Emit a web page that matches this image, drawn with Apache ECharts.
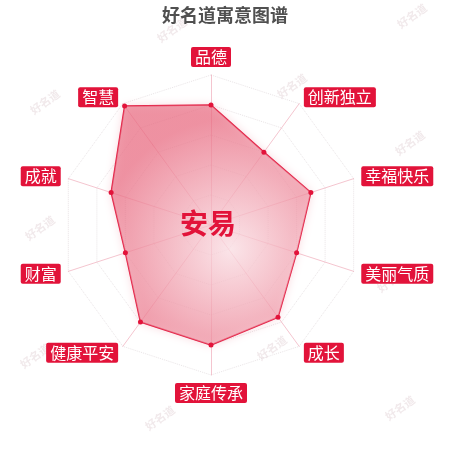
<!DOCTYPE html>
<html>
<head>
<meta charset="utf-8">
<script src="https://cdn.jsdelivr.net/npm/echarts@6/dist/echarts.min.js"></script>
<style>
html,body{margin:0;padding:0;background:#fff;}
#main{width:450px;height:450px;}
</style>
</head>
<body>
<div id="main"></div>
<script>
// Indicators listed clockwise from the top, as in the picture
var indicatorNames = ['品德', '创新独立', '幸福快乐', '美丽气质', '成长', '家庭传承', '健康平安', '财富', '成就', '智慧'];
var indicatorValues = [80, 60, 70, 60, 76, 80, 80, 60, 70, 98];
var indicatorMax = 100;
var chartTitle = '好名道寓意图谱';
var centerName = '安易';
var watermarkText = '好名道';

// ECharts places indicators counter-clockwise, so reverse all but the first
var order = [0];
for (var i = indicatorNames.length - 1; i >= 1; i--) order.push(i);
var indicators = order.map(function (i) { return { name: indicatorNames[i], max: indicatorMax }; });
var values = order.map(function (i) { return indicatorValues[i]; });

var red = '#e2133a';
var wmPos = [[172,30],[412,16],[45,102],[292,86],[410,143],[40,228],[35,356],[272,348],[392,280],[160,418],[400,408]];
var graphics = wmPos.map(function (p) {
  return {
    type: 'text', x: p[0], y: p[1], rotation: Math.PI / 5, z: 0,
    style: { text: watermarkText, fill: 'rgba(205,175,182,0.28)', font: 'bold 11px "Noto Sans CJK SC"', textAlign: 'center', textVerticalAlign: 'middle' }
  };
});
graphics.push({
  type: 'text', x: 208, y: 223, z: 100,
  style: { text: centerName, fill: red, font: 'bold 28px "Noto Sans CJK SC"', textAlign: 'center', textVerticalAlign: 'middle' }
});

var chart = echarts.init(document.getElementById('main'));
chart.setOption({
  animation: false,
  backgroundColor: '#fff',
  title: {
    text: chartTitle, left: 'center', top: 1,
    textStyle: { color: '#505050', fontSize: 18, fontWeight: 'bold', fontFamily: 'Noto Sans CJK SC' }
  },
  graphic: graphics,
  radar: {
    center: [211, 225],
    radius: 150,
    startAngle: 90,
    splitNumber: 5,
    nameGap: 8,
    indicator: indicators,
    axisName: {
      color: '#fff',
      backgroundColor: red,
      fontSize: 16,
      fontFamily: 'Noto Sans CJK SC',
      padding: [2, 4],
      borderRadius: 2,
      lineHeight: 16
    },
    axisLine: { lineStyle: { color: 'rgba(235,150,168,0.55)', width: 1 } },
    splitLine: { lineStyle: { color: 'rgba(215,205,210,0.55)', type: 'dotted', width: 1 } },
    splitArea: { show: false }
  },
  series: [{
    type: 'radar',
    symbol: 'circle',
    symbolSize: 5,
    itemStyle: { color: red },
    lineStyle: { color: red, width: 1.5 },
    areaStyle: {
      color: {
        type: 'radial', x: 0.6, y: 0.6, r: 0.65,
        colorStops: [
          { offset: 0, color: 'rgba(252,238,241,0.95)' },
          { offset: 1, color: 'rgba(232,106,128,0.9)' }
        ]
      },
      shadowColor: 'rgba(232,106,128,0.45)',
      shadowBlur: 10
    },
    data: [{ value: values, name: centerName }]
  }]
});
</script>
</body>
</html>
